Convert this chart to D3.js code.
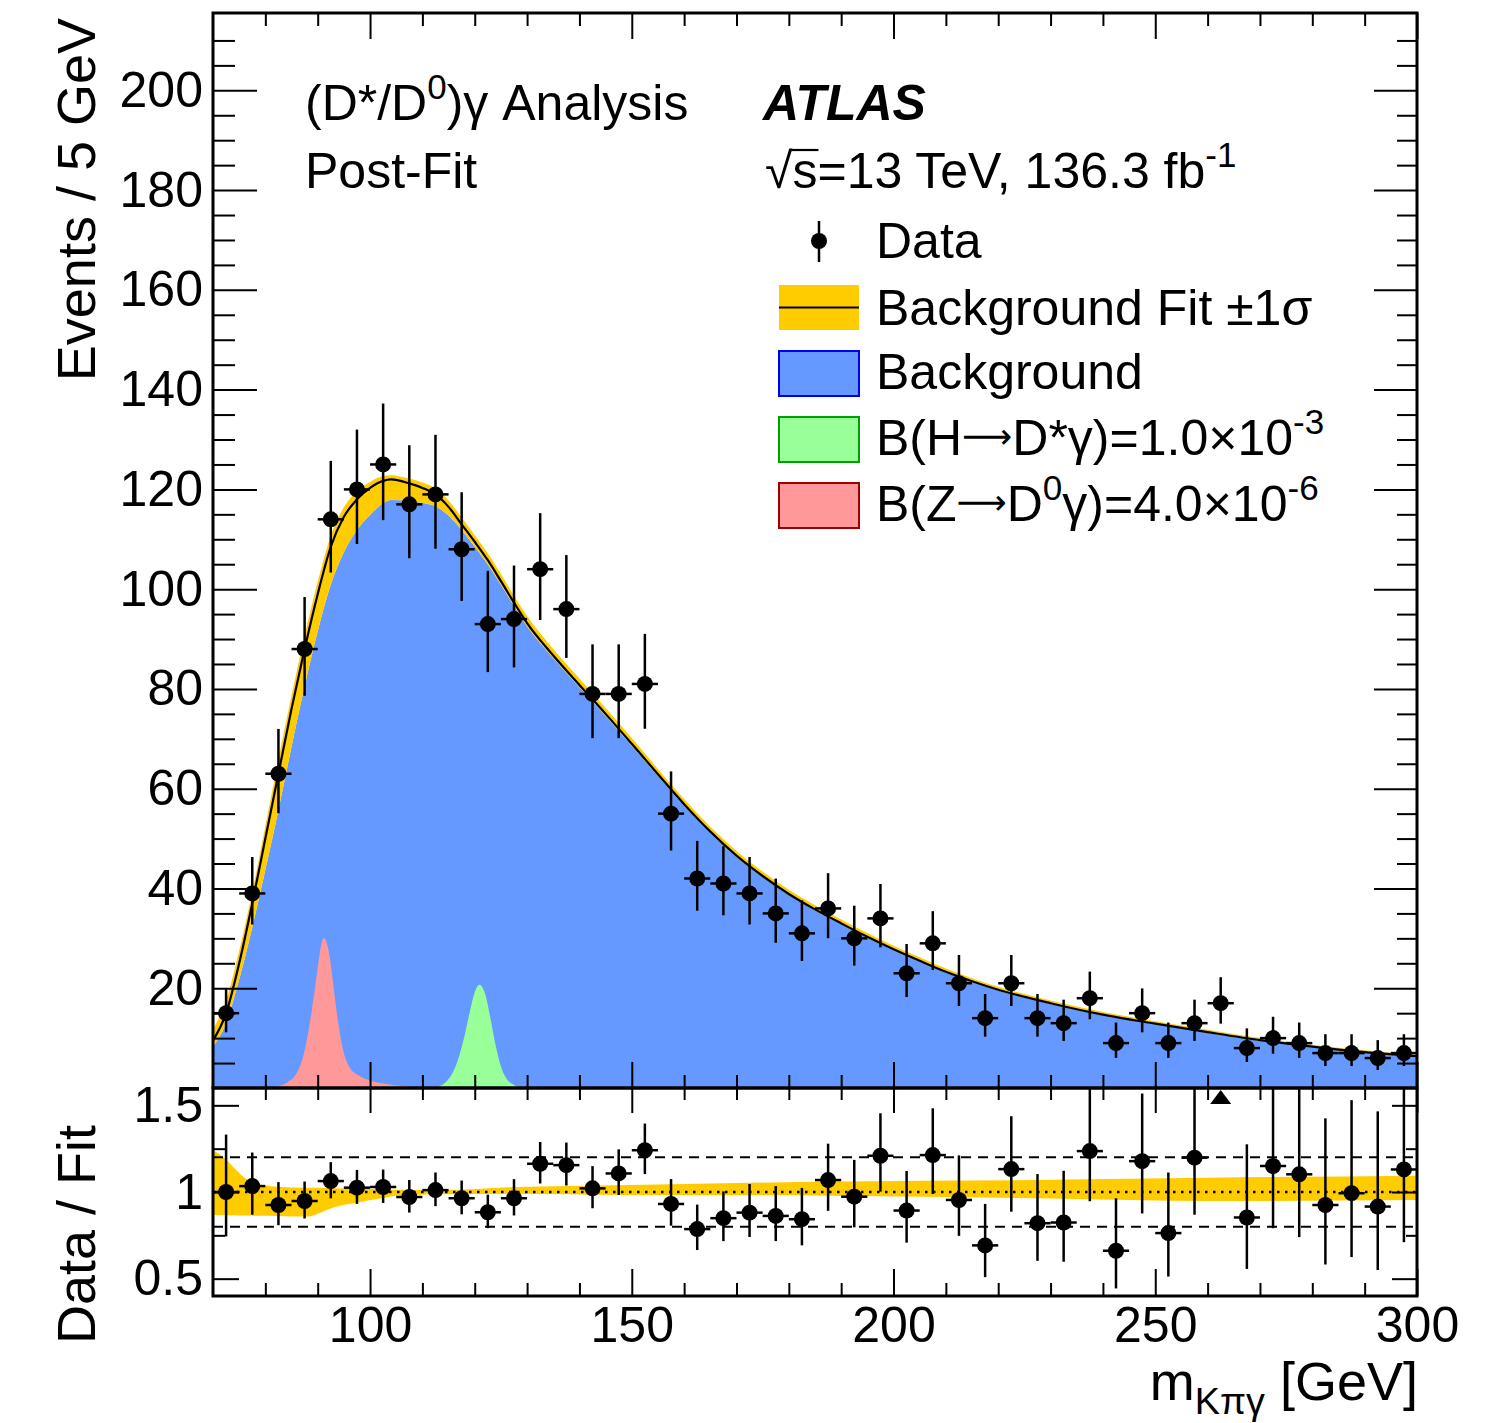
<!DOCTYPE html>
<html><head><meta charset="utf-8">
<script src="https://cdn.jsdelivr.net/npm/d3@7"></script>
<style>
body{margin:0;background:#fff}
text{font-family:"Liberation Sans",Arial,Helvetica,sans-serif;fill:#000}
</style>
</head><body>
<svg id="c" width="1501" height="1423"></svg>
<script>
// ---------------- data ----------------
const massBins = [72.5,77.5,82.5,87.5,92.5,97.5,102.5,107.5,112.5,117.5,122.5,127.5,132.5,137.5,142.5,147.5,152.5,157.5,162.5,167.5,172.5,177.5,182.5,187.5,192.5,197.5,202.5,207.5,212.5,217.5,222.5,227.5,232.5,237.5,242.5,247.5,252.5,257.5,262.5,267.5,272.5,277.5,282.5,287.5,292.5,297.5];
const dataCounts = [15,39,63,88,114,120,125,117,119,108,93,94,104,96,79,79,81,55,42,41,39,35,31,36,30,34,23,29,21,14,21,14,13,18,9,15,9,13,17,8,10,9,7,7,6,7];
const ratioValues = [1.00,1.034,0.925,0.948,1.063,1.025,1.029,0.971,1.011,0.964,0.883,0.964,1.163,1.155,1.021,1.107,1.241,0.931,0.786,0.849,0.881,0.862,0.843,1.069,0.973,1.209,0.893,1.213,0.954,0.692,1.132,0.82,0.824,1.236,0.661,1.178,0.763,1.198,1.85,0.853,1.15,1.102,0.925,0.993,0.916,1.13];

const fitMass   = [70,72.5,75,77.5,80,82.5,85,87.5,90,92.5,95,97.5,100,102.5,104,107.5,110,112.5,115,117.5,120,122.5,125,127.5,130,135,140,145,150,155,160,165,170,175,180,185,190,195,200,205,210,215,220,230,240,250,260,270,280,290,300];
const fitEvents = [9.5,15,25,37,50,63,76,88,99,108.5,114.5,118,120.3,121.7,122,121.2,120.3,119,116.5,113,109.5,105.8,101.6,97.3,93.2,86.7,80.8,75.0,69.0,62.9,56.9,51.4,46.6,42.5,38.9,35.8,33,30.3,27.8,25.5,23.3,21.4,19.7,17.0,14.7,12.9,11.2,9.6,8.3,7.2,6.4];
const fitBandLow  = [0.87,0.87,0.87,0.87,0.875,0.884,0.90,0.915,0.925,0.93,0.938,0.948,0.955,0.963,0.966,0.971,0.975,0.98,0.985,0.99,0.991,0.992,0.993,0.993,0.993,0.994,0.994,0.994,0.994,0.994,0.994,0.994,0.994,0.994,0.994,0.994,0.994,0.994,0.994,0.994,0.994,0.994,0.993,0.992,0.991,0.99,0.989,0.988,0.987,0.986,0.985];
const fitBandHigh = [1.24,1.17,1.10,1.06,1.05,1.045,1.035,1.03,1.025,1.02,1.017,1.014,1.01,1.008,1.007,1.008,1.009,1.01,1.011,1.012,1.012,1.013,1.014,1.014,1.015,1.015,1.016,1.016,1.017,1.017,1.018,1.019,1.02,1.021,1.022,1.023,1.024,1.025,1.026,1.027,1.028,1.029,1.03,1.032,1.035,1.038,1.041,1.044,1.046,1.048,1.05];

const ratioBandMass = [70,72,74,75.8,78,82.2,88,90,93,97.4,101.3,105.1,107.6,114,126.7,149.7,188,230,260,300];
const ratioBandHigh = [1.241,1.20,1.14,1.088,1.05,1.031,1.025,1.024,1.022,1.02,1.016,1.013,1.011,1.011,1.027,1.04,1.06,1.07,1.082,1.094];
const ratioBandLow  = [0.868,0.868,0.866,0.864,0.863,0.862,0.858,0.875,0.91,0.938,0.96,0.979,0.983,0.987,0.99,0.983,0.979,0.962,0.948,0.954];

const zSignalMass   = [82,84,86,87,88,89,90,90.6,91.2,91.8,92.4,93,94,95,96,98,100,103,106,110];
const zSignalEvents = [0.2,1.0,3.0,5.5,10,16.5,24,28.3,30,28.8,25.5,20.5,12.5,7,4.3,2.4,1.5,0.8,0.4,0.1];
const hSignalMass   = [113,114.5,116,117,118,119,120,120.9,122,123,124,125,126,127.5,129];
const hSignalEvents = [0.3,1.2,3.5,6.3,10.2,15,19.2,20.7,18.8,14,8.5,4.3,2,0.6,0.15];

const xMajorTicks = [100,150,200,250,300];
const xMinorTicks = [80,90,110,120,130,140,160,170,180,190,210,220,230,240,260,270,280,290];
const yMainMajorTicks = [20,40,60,80,100,120,140,160,180,200];
const yRatioMajorTicks = [0.5,1,1.5];
const yRatioTickLabels = ["0.5","1","1.5"];
const yRatioMinorTicks = [0.75,1.25];

// ---------------- layout ----------------
const L = 213, R = 1417, T = 13, M = 1088, B = 1296;
const svg = d3.select("#c");
const x  = d3.scaleLinear().domain([70,300]).range([L,R]);
const y  = d3.scaleLinear().domain([0,215.5]).range([M,T]);
const yr = d3.scaleLinear().domain([0.4,1.6]).range([B,M]);
const FS = 50;

const defs = svg.append("defs");
defs.append("clipPath").attr("id","clipMain").append("rect").attr("x",L).attr("y",T).attr("width",R-L).attr("height",M-T);
defs.append("clipPath").attr("id","clipRatio").append("rect").attr("x",L).attr("y",M).attr("width",R-L).attr("height",B-M);

const BLUE="#6699ff", YEL="#ffcc00", GRN="#99ff99", PNK="#ff9999";

// ---------------- main panel ----------------
const gMain = svg.append("g").attr("clip-path","url(#clipMain)");
const fitTab = fitMass.map((m,i)=>({m, v:fitEvents[i], lo:fitBandLow[i], hi:fitBandHigh[i]}));
gMain.append("path").datum(fitTab).attr("fill",BLUE)
  .attr("d", d3.area().x(d=>x(d.m)).y0(y(0)).y1(d=>y(d.v*d.lo)).curve(d3.curveMonotoneX));
const zTab = zSignalMass.map((m,i)=>({m, v:zSignalEvents[i]}));
const hTab = hSignalMass.map((m,i)=>({m, v:hSignalEvents[i]}));
const sigArea = d3.area().x(d=>x(d.m)).y0(y(0)).y1(d=>y(d.v)).curve(d3.curveMonotoneX);
gMain.append("path").datum(zTab).attr("fill",PNK).attr("d",sigArea);
gMain.append("path").datum(hTab).attr("fill",GRN).attr("d",sigArea);
gMain.append("path").datum(fitTab).attr("fill",YEL)
  .attr("d", d3.area().x(d=>x(d.m)).y0(d=>y(d.v*d.lo)).y1(d=>y(d.v*d.hi)).curve(d3.curveMonotoneX));
gMain.append("path").datum(fitTab).attr("fill","none").attr("stroke","#000").attr("stroke-width",2.2)
  .attr("d", d3.line().x(d=>x(d.m)).y(d=>y(d.v)).curve(d3.curveMonotoneX));

const errLo = n => Math.sqrt(Math.max(n-0.25,0));
const errHi = n => Math.sqrt(n+0.75)+1;
const pts = massBins.map((m,i)=>({m, n:dataCounts[i], r:ratioValues[i]}));
const gPts = gMain.append("g");
pts.forEach(p=>{
  gPts.append("line").attr("x1",x(p.m)).attr("x2",x(p.m)).attr("y1",y(p.n-errLo(p.n))).attr("y2",y(p.n+errHi(p.n))).attr("stroke","#000").attr("stroke-width",2.5);
  gPts.append("line").attr("x1",x(p.m-2.5)).attr("x2",x(p.m+2.5)).attr("y1",y(p.n)).attr("y2",y(p.n)).attr("stroke","#000").attr("stroke-width",2.5);
  gPts.append("circle").attr("cx",x(p.m)).attr("cy",y(p.n)).attr("r",8).attr("fill","#000");
});

// ---------------- ratio panel ----------------
const gRat = svg.append("g").attr("clip-path","url(#clipRatio)");
const rbTab = ratioBandMass.map((m,i)=>({m, lo:ratioBandLow[i], hi:ratioBandHigh[i]}));
gRat.append("path").datum(rbTab).attr("fill",YEL)
  .attr("d", d3.area().x(d=>x(d.m)).y0(d=>yr(d.lo)).y1(d=>yr(d.hi)).curve(d3.curveMonotoneX));
[0.8,1.2].forEach(v=>{
  gRat.append("line").attr("x1",L).attr("x2",R).attr("y1",yr(v)).attr("y2",yr(v)).attr("stroke","#000").attr("stroke-width",2).attr("stroke-dasharray","10,7");
});
gRat.append("line").attr("x1",L).attr("x2",R).attr("y1",yr(1)).attr("y2",yr(1)).attr("stroke","#000").attr("stroke-width",2.5).attr("stroke-dasharray","2.5,5.5");
pts.forEach(p=>{
  if (p.r > 1.6) {
    const cx = x(p.m), top = yr(1.6)+2;
    gRat.append("path").attr("d",`M${cx},${top}L${cx+10.5},${top+14}L${cx-10.5},${top+14}Z`).attr("fill","#000");
    return;
  }
  const lo = p.r*errLo(p.n)/p.n, hi = p.r*errHi(p.n)/p.n;
  gRat.append("line").attr("x1",x(p.m)).attr("x2",x(p.m)).attr("y1",yr(p.r-lo)).attr("y2",yr(p.r+hi)).attr("stroke","#000").attr("stroke-width",2.5);
  gRat.append("line").attr("x1",x(p.m-2.5)).attr("x2",x(p.m+2.5)).attr("y1",yr(p.r)).attr("y2",yr(p.r)).attr("stroke","#000").attr("stroke-width",2.5);
  gRat.append("circle").attr("cx",x(p.m)).attr("cy",yr(p.r)).attr("r",8).attr("fill","#000");
});

// ---------------- axes ----------------
function styleAxis(g){
  g.select(".domain").remove();
  g.selectAll(".tick line").attr("stroke","#000").attr("stroke-width",2);
  g.selectAll(".tick text").attr("font-size",FS).attr("fill","#000").attr("font-family","Liberation Sans, Arial, sans-serif");
}
const none = ()=>"";
const mainMinorY = d3.range(5,215,5).filter(v=>v%20!==0);
svg.append("g").attr("transform",`translate(${L},0)`).call(d3.axisLeft(y).tickValues(yMainMajorTicks).tickSizeInner(-44).tickSizeOuter(0).tickPadding(10)).call(styleAxis);
svg.append("g").attr("transform",`translate(${L},0)`).call(d3.axisLeft(y).tickValues(mainMinorY).tickSizeInner(-22).tickSizeOuter(0).tickFormat(none)).call(styleAxis);
svg.append("g").attr("transform",`translate(${R},0)`).call(d3.axisRight(y).tickValues(yMainMajorTicks).tickSizeInner(-43).tickSizeOuter(0).tickFormat(none)).call(styleAxis);
svg.append("g").attr("transform",`translate(${R},0)`).call(d3.axisRight(y).tickValues(mainMinorY).tickSizeInner(-20).tickSizeOuter(0).tickFormat(none)).call(styleAxis);
[[T,d3.axisTop],[M,d3.axisBottom]].forEach(([yy,ax])=>{
  svg.append("g").attr("transform",`translate(0,${yy})`).call(ax(x).tickValues(xMajorTicks).tickSizeInner(-26).tickSizeOuter(0).tickFormat(none)).call(styleAxis);
  svg.append("g").attr("transform",`translate(0,${yy})`).call(ax(x).tickValues(xMinorTicks).tickSizeInner(-13).tickSizeOuter(0).tickFormat(none)).call(styleAxis);
});
svg.append("g").attr("transform",`translate(${L},0)`).call(d3.axisLeft(yr).tickValues(yRatioMajorTicks).tickFormat((d,i)=>yRatioTickLabels[i]).tickSizeInner(-26).tickSizeOuter(0).tickPadding(10)).call(styleAxis);
svg.append("g").attr("transform",`translate(${L},0)`).call(d3.axisLeft(yr).tickValues(yRatioMinorTicks).tickSizeInner(-12).tickSizeOuter(0).tickFormat(none)).call(styleAxis);
svg.append("g").attr("transform",`translate(${R},0)`).call(d3.axisRight(yr).tickValues(yRatioMajorTicks).tickSizeInner(-25).tickSizeOuter(0).tickFormat(none)).call(styleAxis);
svg.append("g").attr("transform",`translate(${R},0)`).call(d3.axisRight(yr).tickValues(yRatioMinorTicks).tickSizeInner(-11).tickSizeOuter(0).tickFormat(none)).call(styleAxis);
svg.append("g").attr("transform",`translate(0,${M})`).call(d3.axisTop(x).tickValues(xMajorTicks).tickSizeInner(-25).tickSizeOuter(0).tickFormat(none)).call(styleAxis);
svg.append("g").attr("transform",`translate(0,${M})`).call(d3.axisTop(x).tickValues(xMinorTicks).tickSizeInner(-12).tickSizeOuter(0).tickFormat(none)).call(styleAxis);
svg.append("g").attr("transform",`translate(0,${B})`).call(d3.axisBottom(x).tickValues(xMajorTicks).tickSizeInner(-27).tickSizeOuter(0).tickPadding(10).tickFormat(d3.format("d"))).call(styleAxis);
svg.append("g").attr("transform",`translate(0,${B})`).call(d3.axisBottom(x).tickValues(xMinorTicks).tickSizeInner(-13).tickSizeOuter(0).tickFormat(none)).call(styleAxis);

svg.append("rect").attr("x",L).attr("y",T).attr("width",R-L).attr("height",M-T).attr("fill","none").attr("stroke","#000").attr("stroke-width",3);
svg.append("rect").attr("x",L).attr("y",M).attr("width",R-L).attr("height",B-M).attr("fill","none").attr("stroke","#000").attr("stroke-width",3);

// ---------------- texts ----------------
function rich(xx, yy, parts, size, opts={}){
  const t = svg.append("text").attr("x",xx).attr("y",yy).attr("font-size",size);
  if (opts.anchor) t.attr("text-anchor",opts.anchor);
  if (opts.weight) t.attr("font-weight",opts.weight);
  if (opts.style) t.attr("font-style",opts.style);
  if (opts.transform) t.attr("transform",opts.transform);
  let shift = 0;
  parts.forEach(p=>{
    const s = typeof p === "string" ? {t:p} : p;
    let target = 0, fs = size;
    if (s.sup) { target = -0.42*size; fs = 0.7*size; }
    if (s.sub) { target = 0.26*size; fs = 0.7*size; }
    if (s.size) fs = s.size;
    if (s.lift !== undefined) target = s.lift;
    const ts = t.append("tspan").attr("font-size",fs).attr("dy",target-shift).text(s.t);
    if (s.font) ts.attr("font-family",s.font);
    shift = target;
  });
  return t;
}
rich(305,120,["(D*/D",{t:"0",sup:true},")γ Analysis"],FS);
rich(305,188,["Post-Fit"],FS);
rich(763,120,["ATLAS"],FS,{weight:"bold",style:"italic"});
const sq = rich(765,188,["√s=13 TeV, 136.3 fb",{t:"-1",sup:true}],FS);
{
  const n = sq.node();
  const e0 = n.getExtentOfChar(0), e1 = n.getExtentOfChar(1);
  const barY = 188 - 0.76*FS;
  svg.append("line").attr("x1",e0.x+e0.width-2).attr("x2",e1.x+e1.width+1)
    .attr("y1",barY).attr("y2",barY).attr("stroke","#000").attr("stroke-width",2.2);
}

rich(95,18,["Events / 5 GeV"],54,{anchor:"end",transform:"rotate(-90,95,18)"});
rich(95,1125,["Data / Fit"],54,{anchor:"end",transform:"rotate(-90,95,1125)"});
rich(1418,1400,["m",{t:"Kπγ",sub:true},{t:" [GeV]"}],54,{anchor:"end"});

// legend
const lg = svg.append("g");
const lx = 779, lw = 80, lh = 45;
lg.append("line").attr("x1",lx+lw/2).attr("x2",lx+lw/2).attr("y1",221).attr("y2",262).attr("stroke","#000").attr("stroke-width",2.5);
lg.append("circle").attr("cx",lx+lw/2).attr("cy",241).attr("r",8).attr("fill","#000");
rich(876,258,["Data"],FS);
lg.append("rect").attr("x",lx).attr("y",285).attr("width",lw).attr("height",lh).attr("fill",YEL);
lg.append("line").attr("x1",lx).attr("x2",lx+lw).attr("y1",307.5).attr("y2",307.5).attr("stroke","#000").attr("stroke-width",2.2);
rich(876,325,["Background Fit ±1σ"],FS);
lg.append("rect").attr("x",lx).attr("y",351).attr("width",lw).attr("height",lh).attr("fill",BLUE).attr("stroke","#0000ee").attr("stroke-width",2);
rich(876,389,["Background"],FS);
lg.append("rect").attr("x",lx).attr("y",417).attr("width",lw).attr("height",lh).attr("fill",GRN).attr("stroke","#00a000").attr("stroke-width",2);
const arrow = {t:"⟶",font:"DejaVu Sans",size:35,lift:-7};
rich(876,455,["B(H",arrow,"D*γ)=1.0×10",{t:"-3",sup:true}],FS);
lg.append("rect").attr("x",lx).attr("y",483).attr("width",lw).attr("height",lh).attr("fill",PNK).attr("stroke","#a00000").attr("stroke-width",2);
rich(876,521,["B(Z",arrow,"D",{t:"0",sup:true},"γ)=4.0×10",{t:"-6",sup:true}],FS);
</script>
</body></html>
